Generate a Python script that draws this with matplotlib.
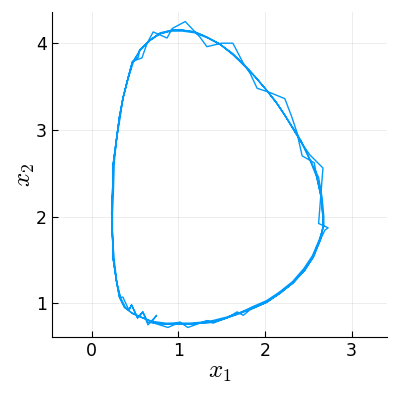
import matplotlib
matplotlib.use("Agg")
import matplotlib.pyplot as plt

plt.rcParams['mathtext.fontset'] = 'cm'

# four passes around the orbit (x1, x2)
loop_a_x1 = [0.84, 0.99, 1.13, 1.25, 1.40, 1.56, 1.71, 1.86, 2.02, 2.17, 2.32, 2.46,
             2.56, 2.64, 2.67, 2.67, 2.65, 2.60, 2.52, 2.41, 2.32, 2.23, 2.13, 2.00,
             1.88, 1.77, 1.63, 1.48, 1.33, 1.19, 1.05, 0.93, 0.79, 0.67, 0.56, 0.47,
             0.42, 0.36, 0.32, 0.29, 0.25, 0.24, 0.23, 0.24, 0.25, 0.29, 0.32, 0.38,
             0.46, 0.59, 0.71, 0.84]
loop_a_x2 = [0.76, 0.76, 0.76, 0.77, 0.78, 0.83, 0.89, 0.94, 1.01, 1.12, 1.23, 1.38,
             1.53, 1.73, 1.88, 1.99, 2.22, 2.45, 2.65, 2.88, 3.02, 3.17, 3.32, 3.48,
             3.62, 3.73, 3.87, 3.99, 4.07, 4.13, 4.15, 4.15, 4.11, 4.03, 3.92, 3.78,
             3.60, 3.36, 3.15, 2.92, 2.62, 2.27, 2.04, 1.76, 1.50, 1.23, 1.07, 0.95,
             0.89, 0.83, 0.78, 0.76]

loop_b_x1 = [0.84, 1.02, 1.11, 1.25, 1.33, 1.40, 1.56, 1.68, 1.75, 1.86, 2.03, 2.18,
             2.33, 2.46, 2.56, 2.64, 2.69, 2.73, 2.62, 2.67, 2.52, 2.40, 2.31, 2.23,
             2.06, 1.91, 1.83, 1.75, 1.63, 1.50, 1.33, 1.25, 1.08, 0.93, 0.87, 0.71,
             0.64, 0.58, 0.47, 0.42, 0.36, 0.32, 0.29, 0.25, 0.24, 0.23, 0.24, 0.25,
             0.29, 0.33, 0.36, 0.43, 0.46, 0.53, 0.59, 0.65, 0.75, 0.69, 0.88, 1.02]
loop_b_x2 = [0.76, 0.78, 0.72, 0.77, 0.80, 0.77, 0.83, 0.90, 0.86, 0.95, 1.02, 1.12,
             1.24, 1.39, 1.54, 1.73, 1.84, 1.87, 1.92, 2.56, 2.71, 2.88, 3.15, 3.36,
             3.43, 3.48, 3.65, 3.77, 4.00, 4.00, 3.96, 4.07, 4.25, 4.17, 4.06, 4.13,
             4.00, 3.83, 3.79, 3.60, 3.36, 3.14, 2.91, 2.61, 2.27, 2.04, 1.76, 1.50,
             1.23, 1.07, 1.07, 0.92, 0.98, 0.83, 0.90, 0.75, 0.86, 0.78, 0.72, 0.78]

loop_c_x1 = [1.02, 1.14, 1.26, 1.40, 1.56, 1.71, 1.86, 2.02, 2.17, 2.32, 2.45, 2.55,
             2.63, 2.68, 2.68, 2.66, 2.62, 2.53, 2.42, 2.34, 2.24, 2.14, 2.01, 1.89,
             1.78, 1.64, 1.49, 1.34, 1.19, 1.05, 0.92, 0.79, 0.68, 0.56, 0.48, 0.42,
             0.36, 0.33, 0.29, 0.26, 0.25, 0.24, 0.24, 0.26, 0.29, 0.33, 0.39, 0.47,
             0.59, 0.70, 0.85]
loop_c_x2 = [0.77, 0.77, 0.78, 0.80, 0.84, 0.89, 0.96, 1.03, 1.13, 1.25, 1.40, 1.55,
             1.74, 1.89, 2.00, 2.22, 2.45, 2.64, 2.87, 3.00, 3.15, 3.30, 3.47, 3.61,
             3.73, 3.86, 3.98, 4.06, 4.12, 4.14, 4.14, 4.11, 4.04, 3.92, 3.78, 3.59,
             3.37, 3.15, 2.92, 2.62, 2.27, 2.04, 1.76, 1.50, 1.24, 1.07, 0.95, 0.88,
             0.83, 0.79, 0.77]

loop_d_x1 = [0.99, 1.13, 1.25, 1.40, 1.56, 1.71, 1.86, 2.02, 2.17, 2.32, 2.46, 2.55,
             2.63, 2.67, 2.67, 2.65, 2.60, 2.57, 2.43, 2.38, 2.32, 2.23, 2.13, 2.00,
             1.88, 1.77, 1.63, 1.48, 1.33, 1.19, 1.05, 0.92, 0.79, 0.68, 0.55, 0.54,
             0.47, 0.42, 0.36, 0.32, 0.29, 0.25, 0.24, 0.23, 0.24, 0.25, 0.29, 0.32,
             0.38, 0.43, 0.46, 0.53, 0.59, 0.65, 0.84, 0.99]
loop_d_x2 = [0.76, 0.76, 0.77, 0.78, 0.83, 0.88, 0.94, 1.01, 1.11, 1.23, 1.38, 1.53,
             1.72, 1.87, 1.99, 2.22, 2.45, 2.62, 2.70, 2.92, 3.02, 3.17, 3.32, 3.48,
             3.62, 3.74, 3.88, 3.99, 4.07, 4.13, 4.15, 4.15, 4.12, 4.04, 3.92, 3.84,
             3.78, 3.60, 3.36, 3.15, 2.92, 2.62, 2.27, 2.04, 1.76, 1.50, 1.23, 1.07,
             0.95, 0.92, 0.98, 0.83, 0.90, 0.78, 0.76, 0.76]

x1 = loop_a_x1 + loop_b_x1 + loop_c_x1 + loop_d_x1
x2 = loop_a_x2 + loop_b_x2 + loop_c_x2 + loop_d_x2

fig = plt.figure(figsize=(3.99, 4.0), dpi=100)
ax = fig.add_axes([0.130, 0.1575, 0.840, 0.8125])

ax.plot(x1, x2, color='#009AFA', linewidth=1)

ax.set_xlim(-0.46, 3.41)
ax.set_ylim(0.61, 4.36)
ax.set_xticks([0, 1, 2, 3])
ax.set_yticks([1, 2, 3, 4])

ax.grid(True, color='black', alpha=0.1, linewidth=0.5)
ax.spines['top'].set_visible(False)
ax.spines['right'].set_visible(False)
ax.tick_params(direction='in', length=4, width=0.8, labelsize=12.5)

ax.set_xlabel(r'$x_1$', fontsize=18, labelpad=0)
ax.set_ylabel(r'$x_2$', fontsize=18, labelpad=-1)

plt.savefig("out.png")
